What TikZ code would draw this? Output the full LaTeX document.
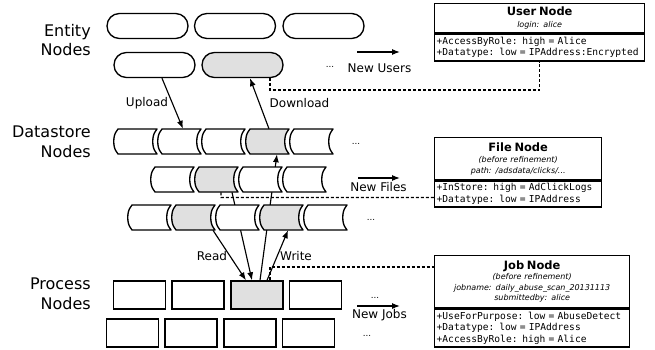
\documentclass[tikz,border=0pt]{standalone}
\usepackage{fontspec}
\setmainfont{DejaVu Sans}
\setmonofont[WordSpace={1,0,0}]{DejaVu Sans Mono}
\usetikzlibrary{arrows.meta,backgrounds}
\definecolor{shade}{RGB}{224,224,224}
\DeclareRobustCommand{\monobody}{\ttfamily\fontsize{7.2}{8.7}\selectfont\spaceskip=0.602em\relax}

\begin{document}
\begin{tikzpicture}[x=0.75pt,y=0.75pt,yscale=-1,xscale=1,
  lbl/.style={font=\fontsize{12}{14.8}\selectfont, align=right, anchor=east, inner sep=0pt},
  txt/.style={font=\fontsize{9}{11}\selectfont, inner sep=0pt},
  dots/.style={font=\fontsize{6.5}{8}\selectfont, inner sep=0pt, anchor=base},
  entity/.style={draw, line width=1pt, fill=white, rounded corners=9.3pt, minimum width=60.75pt, minimum height=18.75pt, inner sep=0pt},
  store/.style={minimum width=29.25pt, minimum height=18.75pt, inner sep=0pt},
  storeline/.style={line width=1pt, line join=round},
  proc/.style={draw, line width=1pt, minimum width=39pt, minimum height=21pt, inner sep=0pt},
  flow/.style={-{Latex[length=6pt,width=4.5pt]}, line width=0.85pt},
  link/.style={line width=1pt, dash pattern=on 2.25pt off 1.5pt},
  umlhead/.style={draw, line width=1pt, fill=white, inner xsep=0pt, inner ysep=0pt, align=center, anchor=north west, font=\fontsize{6}{7.9}\selectfont\itshape},
  umlbody/.style={draw, line width=1pt, fill=white, inner xsep=1.5pt, inner ysep=0pt, align=left, anchor=north west, font=\monobody},
]
\useasboundingbox (0,0) rectangle (655,349);

% Text Node
\node[lbl] (lbl-entity) at (91,40) {Entity\\Nodes};
% Text Node
\node[lbl] (lbl-store) at (91,142) {Datastore\\Nodes};
% Text Node
\node[lbl] (lbl-proc) at (91,294) {Process\\Nodes};

%Shape: Rounded Rect
\node[entity] (e1-1) at (147.5,26) {};
\node[entity] (e1-2) at (235,26) {};
\node[entity] (e1-3) at (323.5,26) {};
\node[entity] (e2-1) at (154.5,65) {};
\node[entity, fill=shade] (e2-2) at (242.5,65) {};

%Shape: Datastore rows
\foreach \r/\n/\x/\f in {1/1/137.5/white, 1/2/181.5/white, 1/3/225.5/white, 1/4/269.5/shade, 1/5/313.5/white,
                         2/1/174.5/white, 2/2/218.5/shade, 2/3/262.5/white, 2/4/306.5/white,
                         3/1/151.5/white, 3/2/195.5/shade, 3/3/239.5/white, 3/4/283.5/shade, 3/5/327.5/white}{
  \pgfmathsetmacro{\yt}{91+38*\r}
  \node[store] (d\r-\n) at (\x,\yt+12.5) {};
  \draw[storeline, fill=\f] (\x-19.5,\yt) -- (\x+19.5,\yt) -- (\x+17.5,\yt+3) .. controls (\x+14.5,\yt+7) and (\x+14.5,\yt+18) .. (\x+17.5,\yt+22) -- (\x+19.5,\yt+25) -- (\x-19.5,\yt+25) -- (\x-21.5,\yt+22) .. controls (\x-24.5,\yt+18) and (\x-24.5,\yt+7) .. (\x-21.5,\yt+3) -- cycle;
}

%Shape: Rectangle
\foreach \n/\x/\f in {1/139.5/white, 2/198/white, 3/257/shade, 4/315.5/white}
  \node[proc, fill=\f] (p1-\n) at (\x,295) {};
\foreach \n/\x in {1/132.5, 2/191, 3/250, 4/308.5}
  \node[proc, fill=white] (p2-\n) at (\x,333) {};

%Straight Lines
\begin{scope}[on background layer]
\draw[flow] ([xshift=5.6pt]e2-1.south) -- ([xshift=1.1pt]d1-2.north);
\draw[flow] ([xshift=-0.4pt]d1-4.north) -- ([xshift=5.6pt]e2-2.south);
\draw[flow] ([xshift=13.1pt]d3-2.south) -- ([xshift=-8.25pt]p1-3.north);
\draw[flow] ([xshift=10.1pt]d2-2.south) -- ([xshift=-3.75pt]p1-3.north);
\draw[flow] ([xshift=7.5pt]p1-3.north) -- ([xshift=3.4pt]d3-4.south);
\draw[flow] ([xshift=2.25pt]p1-3.north) -- ([xshift=5.6pt]d1-4.south);
\end{scope}

% Text Node
\node[txt] (upload) at (147,103) {Upload};
\node[txt] (download) at (299.5,103) {Download};
\node[txt] (read) at (212,256) {Read};
\node[txt] (write) at (296,256) {Write};

% Text Node
\node[dots] (dots-e) at (330,68) {...};
\node[dots] (dots-d1) at (356,144) {...};
\node[dots] (dots-d3) at (371,220) {...};
\node[dots] (dots-p1) at (375,298) {...};
\node[dots] (dots-p2) at (367,336) {...};

% New items
\node[txt] (newusers) at (379.5,68) {New Users};
\coordinate (nu-a) at (357,52);
\coordinate (nu-b) at (400,52);
\draw[flow] (nu-a) -- (nu-b);
\node[txt] (newfiles) at (378.5,187) {New Files};
\coordinate (nf-a) at (358,178);
\coordinate (nf-b) at (400,178);
\draw[flow] (nf-a) -- (nf-b);
\node[txt] (newjobs) at (379.5,315) {New Jobs};
\coordinate (nj-a) at (357,306);
\coordinate (nj-b) at (400,306);
\draw[flow] (nj-a) -- (nj-b);

%Shape: UML boxes
\node[umlhead, text width=157.5pt, minimum height=21.75pt] (user-head) at (434,3)
  {{\fontsize{8.6}{10}\selectfont\bfseries\upshape User Node}\\[1.5pt]login: alice};
\node[umlbody, text width=154.5pt, minimum height=20.25pt] (user-body) at (user-head.south west)
  {+AccessByRole: high = Alice\\+Datatype: low = IPAddress:Encrypted};

\node[umlhead, text width=125.25pt, minimum height=31.5pt] (file-head) at (434,137)
  {{\fontsize{8.6}{10}\selectfont\bfseries\upshape File Node}\\[0.5pt](before refinement)\\path: /adsdata/clicks/...};
\node[umlbody, text width=122.25pt, minimum height=19.5pt] (file-body) at (file-head.south west)
  {+InStore: high = AdClickLogs\\+Datatype: low = IPAddress};

\node[umlhead, text width=146.25pt, minimum height=39pt] (job-head) at (434,255)
  {{\fontsize{8.6}{10}\selectfont\bfseries\upshape Job Node}\\(before refinement)\\jobname: daily\_abuse\_scan\_20131113\\submittedby: alice};
\node[umlbody, text width=143.25pt, minimum height=28.5pt] (job-body) at (job-head.south west)
  {+UseForPurpose: low = AbuseDetect\\+Datatype: low = IPAddress\\+AccessByRole: high = Alice};

%Dotted Lines
\draw[link] ([xshift=20.6pt]e2-2.south) -- ++(0,12) -| (user-body.south);
\coordinate (fjoin) at (221,197.5);
\draw[link] ([xshift=1.9pt]d2-2.south) -- (fjoin) -- (fjoin -| file-body.west);
\coordinate (jjoin) at (270,267);
\draw[link] ([xshift=9.75pt]p1-3.north) -- (jjoin) -- (jjoin -| job-head.west);

\end{tikzpicture}
\end{document}
